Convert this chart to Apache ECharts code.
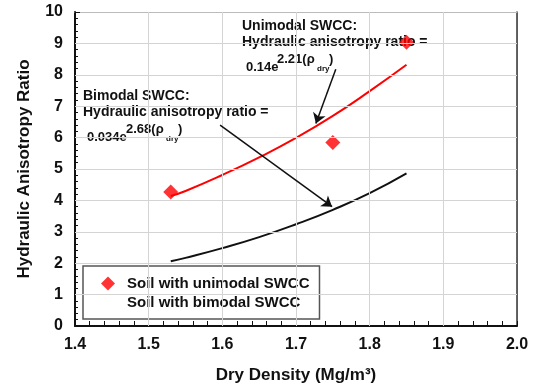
<!DOCTYPE html>
<html><head><meta charset="utf-8">
<script src="https://cdn.jsdelivr.net/npm/echarts@6/dist/echarts.min.js"></script>
<style>html,body{margin:0;padding:0;background:#fff;overflow:hidden}#c{width:536px;height:392px;position:relative}</style>
</head><body><div id="c"></div>
<script>
// Measured points (soil with unimodal SWCC)
const unimodalX = [1.53, 1.75, 1.85];
const unimodalY = [4.27, 5.84, 9.04];
// Fitted curves
const curveX = [1.53, 1.55, 1.60, 1.65, 1.70, 1.75, 1.80, 1.85];
const unimodalFit = [4.14, 4.30, 4.81, 5.37, 5.99, 6.69, 7.48, 8.32];
const bimodalFit = [2.06, 2.17, 2.48, 2.83, 3.24, 3.70, 4.23, 4.86];
// Annotation arrows [x0, y0, x1, y1] in data units
const arrowUni = [1.754, 8.18, 1.727, 6.45];
const arrowBi = [1.597, 6.40, 1.749, 3.80];
// Grid line positions (tick values)
const xGrid = [1.5, 1.6, 1.7, 1.8, 1.9];
const yGrid = [1, 2, 3, 4, 5, 6, 7, 8, 9];

const F = '"Liberation Sans", Arial, sans-serif';
const zip = (xs, ys) => xs.map((x, i) => [x, ys[i]]);
const txt = (x, y, s, fs) => ({type: 'text', x: x, y: y, silent: true,
  style: {text: s, fontFamily: F, fontWeight: 'bold', fontSize: fs || 14, fill: '#111', verticalAlign: 'middle'}});
const formula = (left, cy, base, sup, w1, w2) => [
  txt(left, cy, base, 13),
  txt(left + w1, cy - 8, sup, 13),
  txt(left + w1 + w2, cy + 2, 'dry', 8),
  txt(left + w1 + w2 + 12, cy - 8, ')', 13)
];
const lbl = () => ({fontFamily: F, fontWeight: 'bold', fontSize: 16, color: '#111'});
function full() {
  return {
  animation: false,
  grid: {left: 75, right: 19, top: 12, bottom: 66},
  xAxis: [{
    type: 'value', min: 1.4, max: 2.0, interval: 0.1,
    name: 'Dry Density (Mg/m³)', nameLocation: 'middle', nameGap: 41,
    nameTextStyle: {fontFamily: F, fontWeight: 'bold', fontSize: 17, color: '#111'},
    axisLine: {show: true, onZero: false, lineStyle: {color: '#111', width: 2}},
    axisTick: {show: true, inside: true, length: 5, lineStyle: {color: '#111'}},
    minorTick: {show: true, splitNumber: 5, length: 5, lineStyle: {color: '#111'}},
    splitLine: {show: true, lineStyle: {color: '#d4d4d4'}},
    axisLabel: Object.assign({margin: 11, formatter: v => v.toFixed(1)}, lbl())
  }, {
    type: 'value', min: 1.4, max: 2.0, position: 'top',
    axisLine: {show: true, onZero: false, lineStyle: {color: '#bbb', width: 1}},
    axisTick: {show: false}, axisLabel: {show: false}, splitLine: {show: false}
  }],
  yAxis: [{
    type: 'value', min: 0, max: 10, interval: 1,
    name: 'Hydraulic Anisotropy Ratio', nameLocation: 'middle', nameGap: 42,
    nameTextStyle: {fontFamily: F, fontWeight: 'bold', fontSize: 17, color: '#111'},
    axisLine: {show: true, onZero: false, lineStyle: {color: '#111', width: 2}},
    axisTick: {show: true, inside: true, length: 5, lineStyle: {color: '#111'}},
    minorTick: {show: true, splitNumber: 5, length: 3, lineStyle: {color: '#111'}},
    splitLine: {show: true, lineStyle: {color: '#d4d4d4'}},
    axisLabel: Object.assign({margin: 12}, lbl())
  }, {
    type: 'value', min: 0, max: 10, position: 'right',
    axisLine: {show: true, onZero: false, lineStyle: {color: '#333', width: 1.5}},
    axisTick: {show: false}, axisLabel: {show: false}, splitLine: {show: false}
  }],
  legend: {
    left: 83, top: 266, orient: 'vertical',
    backgroundColor: '#fff', borderColor: '#555', borderWidth: 1.5,
    padding: [10, 10, 9, 18], itemWidth: 14, itemHeight: 14, itemGap: 4,
    textStyle: {fontFamily: F, fontWeight: 'bold', fontSize: 15, color: '#111', padding: [0, 0, 0, 7]},
    data: [{name: 'Soil with unimodal SWCC', icon: 'diamond'}, {name: 'Soil with bimodal SWCC', icon: 'none'}]
  },
  series: [
    {name: 'grid', type: 'line', data: [], z: 1, silent: true,
     markLine: {silent: true, symbol: ['none', 'none'], label: {show: false},
       lineStyle: {color: '#d4d4d4', width: 1, type: 'solid'},
       data: xGrid.map(v => ({xAxis: v})).concat(yGrid.map(v => ({yAxis: v})))}},
    {name: 'Unimodal fit', type: 'line', smooth: true, showSymbol: false, data: zip(curveX, unimodalFit),
     lineStyle: {color: '#ff0000', width: 2}, itemStyle: {color: '#ff0000'}, z: 3},
    {name: 'Soil with bimodal SWCC', type: 'line', smooth: true, showSymbol: false, data: zip(curveX, bimodalFit),
     lineStyle: {color: '#111', width: 2}, itemStyle: {color: '#111'}, z: 3,
     markLine: {silent: true, symbol: ['none', 'arrow'], symbolSize: 10, label: {show: false},
       lineStyle: {color: '#111', width: 1.5, type: 'solid'},
       data: [
         [{coord: [arrowUni[0], arrowUni[1]]}, {coord: [arrowUni[2], arrowUni[3]]}],
         [{coord: [arrowBi[0], arrowBi[1]]}, {coord: [arrowBi[2], arrowBi[3]]}]
       ]}},
    {name: 'Soil with unimodal SWCC', type: 'scatter', symbol: 'diamond', symbolSize: 15,
     data: zip(unimodalX, unimodalY), itemStyle: {color: '#ff0000'}, z: 4}
  ],
  graphic: [
    txt(242, 26, 'Unimodal SWCC:'),
    txt(242, 42, 'Hydraulic anisotropy ratio ='),
    ...formula(246, 67, '0.14e', '2.21(ρ', 31, 40),
    txt(83, 96, 'Bimodal SWCC:'),
    txt(83, 112, 'Hydraulic anisotropy ratio ='),
    ...formula(87, 137, '0.034e', '2.68(ρ', 39, 40)
  ]
  };
}
try { echarts.init(document.getElementById('c')).setOption(full()); } catch (e) {}
</script></body></html>
